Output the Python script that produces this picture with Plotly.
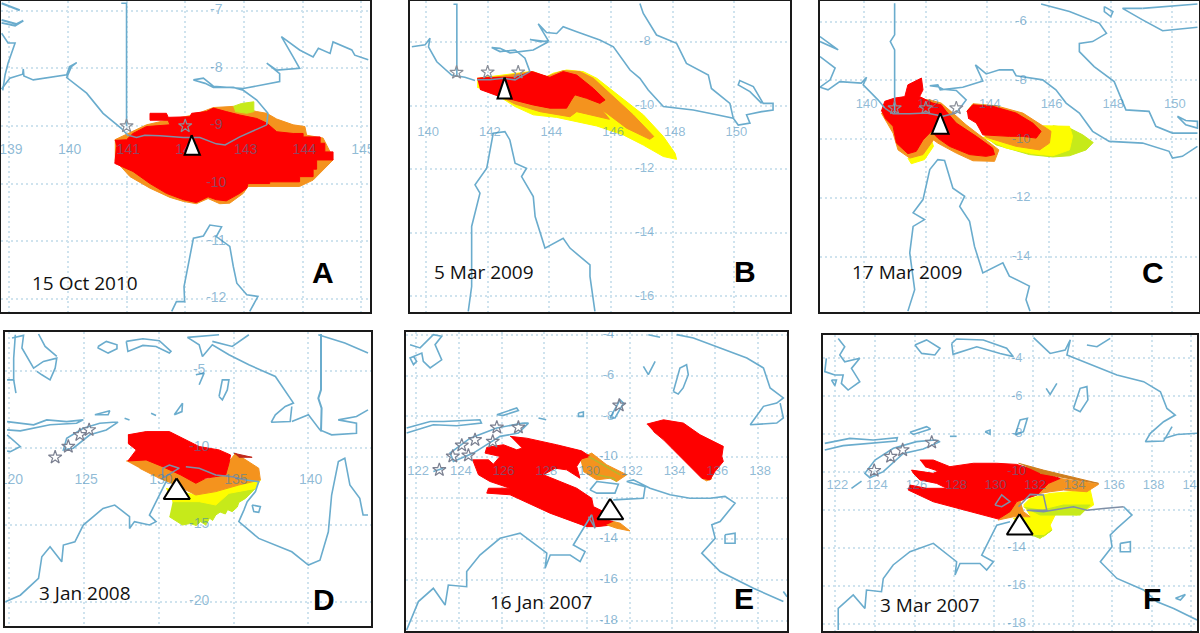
import plotly.graph_objects as go

# ---------- Palette ----------
RED, ORANGE, YELLOW, GREEN = "#fe0000", "#f4931e", "#fdfd00", "#c6ea1a"
COAST, GREY, GRID, LABEL = "#6aaccd", "#7f8fa6", "#cfe3ee", "rgba(50,130,180,0.55)"

# ---------- Panel A: 15 Oct 2010 ----------
A_COAST = [(138.87,-8.36),(139.01,-8.17),(139.23,-8.10),(139.24,-8.01),(139.25,-8.13),(139.41,-8.20),(139.98,-8.11),(140.03,-7.97),(140.15,-7.90),(140.06,-7.97),(139.98,-8.16),(140.32,-8.43),(140.60,-8.78),(140.91,-9.04),(141.03,-9.17)]
A_BORDER = [(141.03,-9.16),(141.17,-9.20),(141.31,-9.16),(141.57,-9.17),(141.97,-9.20),(142.25,-9.20),(142.53,-9.31),(142.68,-9.33),(142.93,-9.19),(143.39,-8.98)]
A_COAST2 = [(143.39,-8.98),(143.41,-8.78),(143.22,-8.55),(142.99,-8.38),(142.82,-8.33),(142.48,-8.33),(142.34,-8.26),(142.14,-8.20),(142.31,-8.17),(142.48,-8.31),(142.99,-8.35),(143.61,-8.23),(143.61,-8.09),(143.39,-7.91),(143.56,-8.03),(143.95,-8.00),(143.84,-7.80),(143.64,-7.45),(143.95,-7.68),(144.18,-7.80),(144.27,-7.65),(144.47,-7.74),(144.52,-7.54),(144.84,-7.68),(144.89,-7.77),(145.12,-7.85)]
A_LINE = [(141,-9),(141,-6.87),(140.91,-6.87)]
A_ISL1 = [(138.87,-7.16),(139.12,-7.23),(139.24,-7.17),(139.10,-7.26),(138.87,-7.21)]
A_ISL2 = [(138.87,-6.87),(139.18,-6.99)]
A_WEST = [(138.87,-7.39),(138.98,-7.56),(139.10,-7.56),(138.98,-7.91),(138.93,-8.11),(138.89,-8.38)]
A_YORK = [(141.77,-12.22),(141.85,-12.05),(141.99,-12.05),(141.98,-11.79),(142.14,-10.95),(142.31,-10.91),(142.42,-10.72),(142.62,-10.75),(142.53,-10.92),(142.76,-11.09),(142.82,-11.44),(142.88,-11.73),(143.05,-11.93),(143.24,-11.96),(143.10,-12.22)]
A_ORANGE = [(140.80,-9.59),(141.06,-9.88),(141.40,-10.08),(141.74,-10.24),(141.97,-10.31),(142.19,-10.35),(142.39,-10.26),(142.59,-10.35),(142.76,-10.34),(142.99,-10.17),(143.07,-10.05),(143.44,-10.05),(143.95,-10.05),(144.18,-9.94),(144.52,-9.59),(144.47,-9.45),(144.35,-9.21),(144.07,-9.16),(144.04,-9.01),(143.84,-8.98),(143.56,-8.88),(143.39,-8.78),(143.22,-8.75),(142.82,-8.66),(142.48,-8.68),(142.14,-8.81),(141.68,-8.90),(141.34,-8.98),(140.80,-9.24)]
A_RED = [(140.80,-9.25),(141.00,-9.24),(141.11,-9.13),(141.34,-9.01),(141.74,-8.98),(141.71,-8.90),(141.40,-8.90),(141.40,-8.78),(141.68,-8.78),(141.71,-8.85),(142.08,-8.84),(142.11,-8.78),(142.36,-8.75),(142.48,-8.69),(142.70,-8.75),(142.93,-8.81),(143.22,-8.87),(143.39,-8.95),(143.56,-9.10),(143.84,-9.13),(144.01,-9.13),(144.01,-9.19),(144.30,-9.19),(144.30,-9.30),(144.38,-9.30),(144.38,-9.45),(144.52,-9.45),(144.52,-9.59),(144.24,-9.59),(144.24,-9.75),(144.18,-9.75),(144.18,-9.88),(143.95,-9.88),(143.95,-9.97),(143.44,-9.97),(143.44,-10.00),(143.07,-10.00),(143.05,-10.08),(142.93,-10.17),(142.70,-10.30),(142.53,-10.28),(142.39,-10.23),(142.19,-10.33),(141.97,-10.28),(141.68,-10.17),(141.40,-10.00),(141.11,-9.79),(140.80,-9.65),(140.83,-9.36)]
A_YELLOW = [(142.82,-8.66),(142.96,-8.61),(143.17,-8.58),(143.17,-8.75),(143.05,-8.78),(142.85,-8.75)]
A_TRI = [(142.11,-9.16),(141.99,-9.50),(142.25,-9.50)]
A_STARS = [(141.0,-9.0),(142.0,-9.0)]
A_LONS = [139,140,141,142,143,144,145]
A_LATS = [-7,-8,-9,-10,-11,-12]

# ---------- Panel B: 5 Mar 2009 ----------
B_COAST = [(139.54,-8.15),(139.97,-8.09),(140.13,-7.88),(140.08,-8.15),(140.35,-8.62),(140.83,-9.04),(141.26,-9.11),(141.59,-9.21)]
B_BORDER = [(141.66,-9.19),(142.08,-9.19),(142.51,-9.14),(142.89,-9.19),(143.37,-8.93)]
B_COAST2 = [(143.37,-8.93),(143.21,-8.51),(142.89,-8.25),(142.40,-8.30),(142.13,-8.17),(142.40,-8.20),(142.72,-8.34),(143.48,-8.25),(143.97,-7.99),(143.37,-7.92),(143.70,-7.99),(143.97,-7.96),(143.64,-7.43),(143.91,-7.70),(144.24,-7.73),(144.45,-7.52),(144.89,-7.68),(145.64,-7.94),(146.08,-8.15),(146.62,-8.88),(146.94,-9.14),(147.21,-9.51),(147.70,-10.03),(148.67,-10.14),(149.43,-10.29),(149.97,-10.40),(150.13,-10.61),(150.51,-10.55),(150.40,-10.29),(150.89,-10.19),(151.26,-10.14),(151.26,-9.93),(150.94,-9.93),(150.62,-9.40),(150.18,-9.21),(150.13,-9.35),(150.51,-9.56),(150.89,-9.93)]
B_NE = [(146.94,-6.79),(147.05,-7.10),(147.48,-7.78),(148.13,-8.04),(148.45,-8.67),(149.16,-9.04),(149.26,-9.46),(149.86,-9.93),(149.97,-10.40)]
B_LINE = [(141,-9.04),(141,-6.81),(140.89,-6.81)]
B_YORK = [(141.37,-16.47),(141.48,-15.69),(141.48,-13.80),(141.75,-12.75),(141.59,-12.49),(141.97,-11.97),(142.18,-10.87),(142.56,-10.82),(142.72,-11.08),(142.89,-11.81),(143.26,-11.97),(143.10,-12.23),(143.48,-12.86),(143.54,-13.49),(143.86,-14.48),(144.45,-14.17),(144.67,-14.48),(145.32,-15.01),(145.32,-15.37),(145.48,-16.47)]
B_YELLOW = [(141.66,-9.42),(142.29,-9.66),(142.89,-10.03),(143.48,-10.29),(144.24,-10.37),(144.89,-10.50),(145.54,-10.64),(146.40,-10.92),(147.05,-11.24),(147.70,-11.60),(148.13,-11.69),(148.08,-11.50),(147.70,-10.97),(147.05,-10.29),(146.18,-9.61),(145.54,-9.14),(145.10,-8.93),(144.56,-8.88),(144.13,-8.98),(143.91,-9.09),(143.37,-8.93),(141.66,-9.14)]
B_ORANGE = [(142.24,-9.63),(142.89,-9.95),(143.70,-10.19),(144.67,-10.35),(144.89,-10.19),(145.54,-10.35),(145.95,-10.43),(145.70,-10.12),(146.51,-10.71),(147.26,-11.06),(147.39,-10.97),(146.72,-10.29),(146.08,-9.72),(145.43,-9.14),(144.99,-8.93),(144.45,-8.90),(143.91,-9.09),(143.48,-8.93),(141.66,-9.19)]
B_RED = [(141.66,-9.14),(141.97,-9.11),(142.89,-9.11),(143.43,-8.93),(144.02,-9.11),(144.45,-8.93),(144.89,-9.04),(145.43,-9.46),(145.81,-9.82),(145.64,-9.93),(145.21,-9.77),(144.83,-9.66),(144.72,-9.82),(144.56,-10.08),(144.02,-10.08),(143.48,-9.98),(142.83,-9.82),(142.40,-9.72),(141.75,-9.49)]
B_TRI = [(142.55,-9.11),(142.32,-9.78),(142.78,-9.78)]
B_STARS = [(140.99,-8.96),(142.00,-8.95),(142.99,-8.95)]
B_LONS = [140,142,144,146,148,150]
B_LATS = [-8,-10,-12,-14,-16]

# ---------- Panel C: 17 Mar 2009 ----------
C_COAST = [(138.57,-8.23),(138.83,-8.32),(139.21,-8.04),(139.91,-8.09),(140.08,-7.89),(139.97,-8.15),(140.45,-8.66),(140.67,-8.94)]
C_BORDER = [(140.67,-8.94),(140.94,-9.13),(141.48,-9.13),(142.02,-9.11),(142.56,-9.22),(142.99,-9.11)]
C_COAST2 = [(142.99,-9.11),(143.31,-8.66),(142.99,-8.34),(142.56,-8.30),(142.39,-8.21),(142.13,-8.18),(142.39,-8.15),(142.47,-8.32),(143.20,-8.23),(143.85,-8.02),(143.61,-7.47),(143.96,-7.78),(144.39,-7.64),(144.82,-7.64),(144.93,-7.84),(145.79,-7.98),(146.22,-8.32),(146.55,-8.77),(146.98,-9.11),(147.41,-9.73),(147.95,-10.07),(149.03,-10.13),(149.89,-10.41),(150.00,-10.64),(150.32,-10.58),(150.81,-10.24)]
C_NE = [(145.74,-5.40),(146.66,-5.66),(147.63,-6.06),(147.86,-6.40),(147.41,-6.68),(146.98,-6.74),(146.98,-7.02),(147.46,-7.53),(148.11,-8.04),(148.49,-9.00),(149.24,-9.05),(149.46,-9.56),(150.00,-9.79),(150.81,-9.79)]
C_ISL1 = [(149.03,-5.55),(148.38,-5.55),(149.03,-5.94),(149.68,-6.31),(150.81,-6.19)]
C_ISL2 = [(149.03,-5.55),(150.81,-5.40)]
C_ISL3 = [(147.79,-5.49),(148.07,-5.66),(148.00,-5.83),(147.79,-5.66),(147.79,-5.49)]
C_ISL4 = [(150.16,-9.22),(150.43,-9.36),(150.81,-9.39),(150.81,-9.62),(150.43,-9.51),(150.16,-9.22)]
C_WEST = [(138.57,-6.51),(139.16,-6.96),(138.57,-6.68)]
C_WEST2 = [(138.57,-7.19),(139.06,-7.58),(138.90,-7.98),(138.57,-8.23)]
C_LINE = [(140.99,-9.13),(140.99,-6.96),(140.85,-6.68),(140.99,-6.45),(140.99,-5.38)]
C_YORK = [(141.42,-15.84),(141.64,-15.11),(141.48,-13.86),(141.59,-12.96),(141.96,-12.73),(141.59,-12.50),(141.91,-12.05),(142.13,-11.03),(142.39,-10.69),(142.61,-10.72),(142.88,-11.66),(143.26,-11.94),(143.10,-12.28),(143.42,-12.79),(143.58,-13.64),(143.85,-14.54),(144.50,-14.20),(144.71,-14.65),(145.36,-14.99),(145.25,-15.45),(145.38,-15.84)]
C_GREEN_E = [(146.12,-9.54),(146.66,-9.62),(147.09,-9.85),(147.43,-10.11),(147.20,-10.36),(146.66,-10.56),(146.12,-10.60),(145.36,-10.52),(144.28,-10.19),(143.91,-9.90),(144.71,-10.02),(146.01,-10.13)]
C_YELLOW_E = [(145.79,-9.54),(146.66,-9.56),(146.76,-9.90),(146.66,-10.36),(146.12,-10.56),(145.47,-10.49),(144.61,-10.30),(143.85,-9.93)]
C_ORANGE_E = [(143.33,-9.05),(143.53,-8.79),(144.28,-8.86),(145.15,-9.11),(145.79,-9.54),(146.06,-9.73),(146.01,-10.13),(145.69,-10.36),(144.93,-10.24),(143.96,-9.93),(143.64,-9.45)]
C_RED_E = [(143.33,-9.05),(143.53,-8.83),(144.17,-8.88),(144.93,-9.11),(145.47,-9.45),(145.74,-9.73),(145.58,-9.96),(145.15,-9.90),(144.71,-9.90),(143.85,-9.85),(143.64,-9.45),(143.37,-9.28)]
C_YELLOW_W = [(141.42,-10.64),(141.53,-10.83),(141.96,-10.69),(142.25,-10.24),(142.18,-10.02),(141.91,-10.47)]
C_ORANGE_W = [(140.56,-9.11),(140.94,-9.79),(141.10,-10.36),(141.48,-10.64),(141.91,-10.52),(142.25,-10.02),(142.39,-10.13),(142.99,-10.47),(143.53,-10.73),(144.23,-10.75),(144.37,-10.36),(143.96,-10.02),(143.31,-9.51),(142.88,-9.11),(142.50,-8.77),(142.13,-8.66),(141.48,-8.66)]
C_RED_W = [(140.56,-9.05),(140.67,-8.71),(140.99,-8.60),(141.32,-8.55),(141.42,-8.15),(141.86,-7.92),(141.91,-8.32),(141.80,-8.55),(142.23,-8.77),(142.50,-8.83),(142.66,-9.05),(142.99,-9.45),(143.64,-9.90),(144.17,-10.30),(144.23,-10.52),(143.96,-10.58),(143.42,-10.52),(142.77,-10.24),(142.39,-9.96),(142.18,-9.73),(141.91,-10.02),(141.69,-10.41),(141.42,-10.49),(141.05,-10.13),(140.94,-9.56),(140.67,-9.28)]
C_TRI = [(142.47,-9.11),(142.20,-9.81),(142.74,-9.81)]
C_STARS = [(140.99,-8.94),(142.00,-8.94),(142.99,-8.94)]
C_LONS = [140,142,144,146,148,150]
C_LATS = [-6,-8,-10,-12,-14]

# ---------- Panel D: 3 Jan 2008 ----------
D_COASTS = [
 [(120.20,-2.87),(120.97,-2.70),(120.86,-3.52),(121.64,-4.83),(122.30,-4.39),(123.19,-4.18),(123.08,-4.83),(122.74,-5.59),(122.19,-5.26),(121.86,-5.04)],
 [(120.42,-2.66),(120.31,-4.18),(120.31,-5.59),(119.87,-5.59)],
 [(120.31,-5.59),(120.46,-6.45)],
 [(121.97,-2.61),(122.41,-3.42),(123.19,-4.07)],
 [(125.95,-3.42),(126.50,-3.09),(127.21,-3.31),(127.21,-3.57),(126.62,-3.85),(125.95,-3.52),(125.95,-3.42)],
 [(127.83,-3.09),(128.94,-2.92),(130.04,-3.05),(130.82,-3.74),(130.71,-3.85),(129.82,-3.42),(128.94,-3.35),(127.94,-3.74),(127.83,-3.09)],
 [(131.92,-2.83),(132.70,-3.31),(132.92,-4.07),(133.58,-3.31),(134.69,-3.96),(136.02,-4.61),(137.79,-5.37),(138.45,-6.34),(139.00,-7.10),(138.45,-7.32),(137.79,-7.86),(137.52,-8.34),(138.78,-8.30),(138.89,-7.32)],
 [(138.89,-8.30),(140.00,-7.86),(140.77,-8.84),(141.55,-9.16),(143.21,-9.06),(143.21,-8.41),(141.99,-8.19),(143.21,-7.97),(143.98,-7.54)],
 [(133.58,-3.09),(134.91,-3.42),(136.02,-2.66)],
 [(131.92,-2.83),(134.03,-2.66)],
 [(140.66,-2.66),(142.43,-3.20),(143.98,-3.85)],
 [(132.48,-5.26),(133.03,-5.15),(132.70,-5.91)],
 [(134.03,-6.67),(134.25,-5.59),(134.69,-5.59),(134.58,-6.24),(134.25,-6.89),(134.03,-6.67)],
 [(131.04,-7.86),(131.59,-7.10),(131.55,-7.65),(131.04,-7.86)],
 [(129.49,-7.76),(129.82,-7.91)],
 [(127.72,-8.08),(128.05,-8.19)],
 [(119.87,-8.30),(121.64,-8.51),(122.52,-8.19),(123.85,-8.30),(124.96,-8.19),(124.51,-8.41),(122.74,-8.51),(121.64,-8.73),(120.75,-8.90),(119.87,-8.84)],
 [(125.73,-7.86),(126.73,-7.60),(126.62,-7.86),(125.73,-7.86)],
 [(126.95,-8.34),(127.28,-8.34),(126.50,-8.84),(125.40,-9.16),(124.29,-10.03),(123.63,-10.14),(123.85,-9.38),(124.96,-8.73),(126.06,-8.41),(126.95,-8.34)],
 [(119.87,-9.16),(120.75,-9.92),(120.09,-10.25),(119.87,-10.21)],
 [(119.76,-20.01),(120.75,-19.58),(121.97,-18.49),(122.19,-17.08),(122.74,-16.43),(123.52,-17.41),(123.63,-16.32),(124.40,-16.11),(124.96,-15.02),(126.28,-13.94),(127.06,-13.72),(128.05,-14.48),(128.05,-15.24),(128.38,-14.80),(129.38,-15.02),(129.82,-14.80),(129.38,-14.37),(130.27,-12.64),(130.49,-12.20)],
 [(135.80,-12.09),(136.68,-12.20),(136.46,-12.85),(135.91,-13.50),(135.69,-14.05),(135.35,-14.80),(136.68,-15.89),(138.89,-16.76),(140.00,-17.62),(140.77,-17.30),(141.33,-15.46),(141.55,-13.07),(142.00,-10.90),(142.43,-10.68),(142.77,-12.42),(143.43,-13.29),(143.65,-14.37),(143.98,-14.37)],
 [(136.24,-13.72),(136.79,-13.83),(136.68,-14.20),(136.35,-14.15),(136.24,-13.72)],
]
D_BORDER = [(140.84,-2.61),(140.84,-6.24),(140.66,-6.78),(140.88,-7.43),(140.84,-8.95)]
D_TIWI = [(130.27,-11.33),(130.27,-11.98),(131.37,-11.33),(130.71,-11.12),(130.27,-11.33)]
D_ARNHEM = [(131.81,-11.23),(132.48,-11.33),(132.70,-11.33),(133.81,-11.77),(134.91,-11.88),(135.80,-12.09)]
D_GREEN = [(130.93,-13.50),(132.70,-13.39),(133.81,-13.61),(134.69,-12.96),(136.46,-12.64),(135.80,-13.29),(135.35,-13.55),(135.25,-13.85),(134.91,-14.15),(134.60,-14.02),(134.45,-14.30),(134.10,-14.18),(133.81,-14.37),(133.60,-14.72),(133.40,-14.58),(133.14,-15.02),(132.80,-14.80),(132.50,-15.05),(132.10,-14.92),(131.59,-15.02),(130.71,-14.48)]
D_YELLOW = [(130.49,-12.64),(132.48,-13.07),(133.81,-12.85),(135.35,-12.42),(136.79,-12.09),(136.46,-12.64),(134.69,-12.96),(133.81,-13.72),(132.70,-13.50),(130.93,-13.50)]
D_ORANGE = [(127.83,-10.86),(129.16,-10.68),(130.49,-11.23),(132.48,-12.20),(134.47,-11.77),(134.69,-10.90),(135.13,-10.36),(135.80,-10.79),(136.68,-11.33),(136.79,-12.09),(135.35,-12.42),(133.81,-12.85),(132.48,-13.07),(131.15,-12.42),(130.04,-11.98),(128.72,-11.33)]
D_RED = [(127.94,-9.16),(129.16,-8.95),(130.71,-8.95),(131.81,-9.49),(132.70,-9.92),(134.03,-10.14),(134.80,-10.47),(134.69,-11.01),(134.47,-11.77),(133.14,-11.98),(132.48,-12.31),(131.48,-11.77),(130.27,-11.23),(129.16,-10.79),(127.94,-10.86),(128.50,-10.14),(127.94,-9.71)]
D_STREAK = [(135.02,-10.36),(136.24,-10.62),(135.35,-10.62)]
D_TRI = [(131.19,-11.99),(130.33,-13.33),(132.08,-13.33)]
D_STARS = [(123.08,-10.62),(123.96,-9.92),(124.73,-9.16),(125.35,-8.84)]
D_LONS = [120,125,130,135,140]
D_LATS = [-5,-10,-15,-20]

# ---------- Panel E: 16 Jan 2007 ----------
E_COASTS = [
 [(121.72,-4.49),(122.19,-4.65),(122.81,-4.00),(123.20,-4.08),(122.89,-4.49),(123.20,-5.23),(122.66,-5.63),(122.34,-5.31),(122.27,-4.90),(121.72,-5.14),(121.88,-5.47),(122.03,-5.31),(121.88,-5.06)],
 [(132.87,-4.00),(133.42,-4.13)],
 [(134.20,-4.00),(134.98,-4.16),(136.23,-4.65),(137.48,-5.14),(138.26,-5.63),(138.57,-6.61),(139.19,-7.10),(138.88,-7.35),(138.26,-7.51),(137.64,-8.41),(138.88,-8.33),(139.19,-8.08),(139.04,-7.35)],
 [(132.64,-5.55),(132.87,-5.96),(133.19,-5.31)],
 [(134.04,-6.78),(134.35,-5.63),(134.66,-5.47),(134.74,-5.96),(134.50,-6.61),(134.27,-6.91),(134.04,-6.78)],
 [(131.08,-8.08),(131.55,-7.19),(131.71,-7.35),(131.31,-8.08),(131.08,-8.08)],
 [(129.60,-7.84),(129.83,-7.79),(129.83,-8.00),(129.60,-8.00),(129.60,-7.84)],
 [(127.73,-8.08),(128.09,-8.17)],
 [(125.78,-7.92),(126.71,-7.59),(126.79,-7.72),(126.09,-7.95),(125.78,-7.92)],
 [(121.56,-8.57),(122.66,-8.25),(123.28,-8.25),(124.99,-8.17),(125.06,-8.33),(123.90,-8.46),(122.81,-8.41),(121.56,-8.82)],
 [(127.02,-8.33),(127.26,-8.33),(126.79,-8.82),(125.93,-8.98),(124.68,-9.80),(123.75,-10.21),(123.59,-9.80),(124.53,-9.07),(125.78,-8.57),(127.02,-8.33)],
 [(122.81,-10.70),(123.28,-10.54)],
 [(121.56,-18.46),(122.11,-17.07),(122.81,-16.42),(123.36,-17.24),(123.51,-16.26),(124.37,-16.34),(124.37,-15.60),(124.99,-14.79),(125.93,-13.97),(126.87,-13.72),(128.12,-14.70),(128.04,-15.44),(128.28,-14.79),(129.21,-14.79),(129.68,-15.11),(129.91,-14.62),(129.36,-14.30),(129.83,-13.48),(130.22,-12.82)],
 [(130.14,-11.60),(130.46,-11.19),(131.47,-11.32),(131.31,-11.76),(130.46,-11.76),(130.14,-11.60)],
 [(131.23,-12.09),(132.64,-12.01),(132.72,-11.44),(131.86,-11.19),(132.17,-11.11),(132.95,-11.52),(133.89,-11.84),(134.82,-12.01),(135.76,-12.01),(136.46,-11.92),(136.93,-12.25),(136.23,-13.15),(135.84,-13.31),(136.00,-13.97),(135.37,-14.70),(136.23,-15.60),(137.79,-16.42),(139.19,-17.07)],
 [(136.46,-13.80),(136.93,-13.72),(136.93,-14.21),(136.46,-14.21),(136.46,-13.80)],
 [(139.19,-16.58),(139.36,-16.83)],
]
E_GREYLINE = [(130.07,-12.91),(130.38,-13.48),(130.22,-12.82)]
E_ORANGE = [(129.67,-10.05),(130.22,-9.80),(130.92,-10.37),(131.86,-10.86),(131.39,-11.19),(131.08,-11.03),(130.46,-11.11),(129.83,-10.70)]
E_RED = [(126.40,-8.98),(127.18,-9.07),(128.58,-9.39),(129.75,-9.69),(130.14,-9.96),(129.75,-10.08),(129.52,-10.45),(129.67,-11.03),(129.05,-10.62),(128.51,-10.54),(127.96,-10.86),(128.74,-11.19),(129.52,-11.52),(130.22,-12.01),(130.30,-12.42),(130.77,-12.66),(130.53,-12.99),(131.24,-13.15),(131.24,-13.31),(130.46,-13.40),(129.99,-13.40),(128.27,-12.74),(126.40,-11.84),(125.31,-11.76),(125.39,-11.52),(126.40,-11.52),(125.46,-11.19),(124.92,-10.86),(124.65,-10.13),(125.39,-10.13),(125.62,-10.34),(125.93,-9.96),(125.23,-9.80),(125.31,-9.52),(126.09,-9.39),(126.71,-9.64),(126.95,-9.56)]
E_ORANGE_S = [(131.24,-13.15),(131.55,-13.23),(132.01,-13.61),(131.39,-13.48),(130.92,-13.31)]
E_STREAK1 = [(130.07,-9.96),(131.55,-10.86)]
E_STREAK2 = [(130.46,-10.86),(131.24,-11.03),(131.39,-11.19)]
E_ORANGE_NE = [(135.37,-11.03),(135.60,-11.16),(135.84,-11.06),(135.76,-10.86)]
E_RED_NE = [(132.80,-8.38),(133.58,-8.17),(134.51,-8.33),(135.29,-8.90),(136.38,-9.47),(136.31,-9.96),(136.38,-10.21),(135.99,-10.70),(135.76,-11.11),(135.37,-11.03),(134.82,-10.45),(134.20,-9.80),(133.58,-9.15),(133.11,-8.74)]
E_TRI = [(131.08,-12.04),(130.49,-13.04),(131.70,-13.04)]
E_STARS = [(123.09,-10.62),(123.72,-9.96),(124.45,-9.91),(124.14,-9.42),(124.76,-9.15),(125.59,-9.23),(125.78,-8.54),(126.79,-8.54),(131.51,-7.46)]
E_LONS = [122,124,126,128,130,132,134,136,138]
E_LATS = [-4,-6,-8,-10,-14,-16,-18]
E_GRID_LATS = [-4,-6,-8,-10,-12,-14,-16,-18]

# ---------- Panel F: 3 Mar 2007 ----------
F_COASTS = [
 [(122.14,-2.95),(122.47,-3.39),(122.22,-3.82),(122.47,-4.18),(123.23,-4.00),(122.81,-4.53),(123.23,-5.23),(122.64,-5.67),(122.30,-5.32),(122.39,-4.88),(121.97,-4.88),(121.46,-4.70),(121.54,-4.00)],
 [(121.80,-5.14),(122.05,-5.14),(121.97,-5.44),(121.80,-5.14)],
 [(126.02,-3.30),(126.61,-3.03),(127.29,-3.47),(127.03,-3.82),(126.36,-3.74),(126.02,-3.30)],
 [(127.88,-3.21),(128.13,-2.98),(129.48,-3.03),(130.66,-3.47),(131.00,-3.91),(130.33,-3.74),(129.15,-3.39),(127.95,-3.79),(127.88,-3.21)],
 [(132.02,-2.91),(132.86,-3.74),(133.62,-3.56),(133.88,-3.03),(133.71,-3.82),(134.72,-4.26),(136.24,-4.88),(137.59,-5.23),(138.44,-5.76),(138.77,-6.64),(139.19,-6.99),(138.60,-7.34),(137.93,-7.95),(137.68,-8.39),(138.60,-8.36),(139.03,-7.60)],
 [(135.90,-2.95),(135.23,-3.39),(134.72,-3.30)],
 [(138.60,-8.22),(139.28,-8.01),(140.29,-7.95)],
 [(132.66,-5.58),(132.86,-5.90),(133.20,-5.32)],
 [(134.04,-6.64),(134.38,-5.58),(134.72,-5.49),(134.77,-6.19),(134.38,-6.81),(134.04,-6.64)],
 [(131.09,-8.04),(131.34,-7.25),(131.71,-7.16),(131.51,-7.87),(131.09,-8.04)],
 [(129.57,-7.87),(129.82,-7.78),(129.82,-8.00),(129.57,-7.87)],
 [(127.79,-8.11),(128.13,-8.11)],
 [(125.77,-7.90),(126.61,-7.60),(126.81,-7.72),(125.94,-8.01),(125.77,-7.90)],
 [(121.46,-8.48),(122.73,-8.22),(123.91,-8.30),(125.13,-8.18),(125.09,-8.36),(123.74,-8.48),(122.39,-8.60),(121.46,-8.83)],
 [(127.03,-8.30),(127.29,-8.39),(126.44,-8.78),(125.43,-9.01),(124.42,-9.97),(123.74,-10.29),(123.49,-10.06),(124.00,-9.36),(124.93,-8.74),(126.10,-8.39),(127.03,-8.30)],
 [(122.81,-10.85),(123.32,-10.47)],
 [(122.14,-18.32),(122.14,-17.18),(122.90,-16.47),(123.49,-17.18),(123.57,-16.21),(124.33,-16.30),(124.42,-15.60),(124.92,-14.89),(125.77,-14.19),(126.95,-13.75),(128.13,-14.72),(128.05,-15.42),(128.30,-14.81),(129.31,-14.81),(129.65,-15.16),(129.99,-14.72),(129.40,-14.37),(129.82,-13.49),(130.16,-12.79),(130.83,-12.61)],
 [(136.58,-11.82),(137.00,-12.26),(136.24,-12.96),(135.90,-13.31),(135.99,-13.93),(135.40,-14.72),(136.24,-15.60),(137.59,-16.21),(138.27,-16.83),(139.11,-17.18),(140.29,-17.79)],
 [(136.41,-13.75),(136.92,-13.66),(136.92,-14.19),(136.41,-14.19),(136.41,-13.75)],
 [(139.20,-16.65),(139.70,-16.44),(139.45,-16.74),(139.20,-16.65)],
]
F_TIWI = [(130.07,-11.73),(130.41,-11.20),(130.83,-11.55),(130.41,-11.82),(130.07,-11.73)]
F_ARNHEM = [(131.26,-11.82),(131.85,-11.17),(132.52,-11.20),(132.69,-12.00),(131.68,-12.00),(132.52,-12.08),(134.04,-11.82),(134.72,-12.00),(135.56,-11.91),(136.58,-11.82)]
F_STREAK = [(131.26,-9.53),(132.52,-9.89),(135.31,-10.59),(134.21,-10.41),(132.35,-10.06)]
F_YELLOW = [(131.51,-11.73),(131.85,-11.38),(132.86,-11.12),(134.89,-10.94),(135.06,-11.73),(134.21,-12.26),(133.20,-12.08),(133.03,-12.43),(132.86,-12.79),(132.95,-13.05),(132.52,-13.40),(131.93,-13.31),(131.00,-12.43),(131.85,-12.35)]
F_GREEN = [(131.51,-11.82),(132.36,-12.26),(134.38,-12.26),(134.89,-11.73),(133.54,-11.73),(132.52,-11.99)]
F_GREEN2 = [(131.93,-13.31),(132.35,-13.49),(132.95,-13.05),(132.61,-13.31)]
F_ORANGE = [(133.37,-10.33),(135.31,-10.64),(134.72,-11.03),(133.54,-10.94),(132.86,-11.03),(131.85,-11.20),(131.34,-11.55),(131.51,-12.08),(131.85,-12.35),(131.00,-12.35),(130.24,-12.52),(130.83,-11.99),(131.17,-11.55),(132.19,-11.20),(132.78,-10.59)]
F_RED = [(126.27,-9.36),(126.95,-9.36),(127.79,-9.71),(128.98,-9.53),(130.16,-9.53),(131.17,-9.59),(132.35,-9.97),(133.37,-10.33),(132.78,-10.59),(132.19,-11.20),(131.17,-11.55),(130.83,-12.08),(130.24,-12.47),(128.81,-12.08),(126.95,-11.56),(125.68,-10.94),(125.77,-10.68),(126.61,-10.85),(127.63,-10.85),(127.12,-10.59),(126.27,-10.41),(125.94,-10.06),(125.85,-9.89),(126.95,-10.06),(127.20,-9.94),(126.53,-9.71)]
F_TRI = [(131.31,-12.21),(130.67,-13.28),(131.98,-13.28)]
F_STARS = [(123.96,-9.92),(124.79,-9.18),(125.40,-8.83),(126.87,-8.43)]
F_LONS = [122,124,126,128,130,132,134,136,138,140]
F_LATS = [-4,-6,-8,-10,-14,-16,-18]
F_GRID_LATS = [-4,-6,-8,-10,-12,-14,-16,-18]

# ---------- Panels (frame in page pixels l, r, t, b) ----------
PANELS = [
 dict(frame=(1,370,1,312), xr=(138.86,145.15), yr=(-12.23,-6.83), glon=A_LONS, glat=A_LATS, lons=A_LONS, lats=A_LATS,
      lon_at=-9.43, lon_off=0.03, lat_at=142.53, size=14, star="#8a8f99",
      coasts=[A_COAST,A_COAST2,A_LINE,A_WEST,A_YORK], thick=[A_ISL1,A_ISL2], grey=[A_BORDER],
      fills=[(A_ORANGE,ORANGE),(A_YELLOW,GREEN),(A_RED,RED)], tri=A_TRI, stars=A_STARS,
      date="15 Oct 2010", dxy=(85,283), mark="A", mxy=(323,272)),
 dict(frame=(410,790,1,312), xr=(139.48,151.81), yr=(-16.49,-6.71), glon=B_LONS, glat=B_LATS, lons=B_LONS, lats=B_LATS,
      lon_at=-10.85, lon_off=0.07, lat_at=147.10, size=13, star="#8a8f99",
      coasts=[B_COAST,B_COAST2,B_NE,B_LINE,B_YORK], thick=[], grey=[B_BORDER],
      fills=[(B_YELLOW,YELLOW),(B_ORANGE,ORANGE),(B_RED,RED)], tri=B_TRI, stars=B_STARS,
      date="5 Mar 2009", dxy=(484,272), mark="B", mxy=(745,271)),
 dict(frame=(820,1199,1,312), xr=(138.57,150.86), yr=(-15.87,-5.30), glon=C_LONS, glat=C_LATS, lons=C_LONS, lats=C_LATS,
      lon_at=-8.83, lon_off=0.08, lat_at=145.09, size=13, star="#8a8f99",
      coasts=[C_COAST,C_COAST2,C_NE,C_ISL1,C_ISL2,C_ISL3,C_ISL4,C_WEST,C_WEST2,C_LINE,C_YORK], thick=[], grey=[C_BORDER],
      fills=[(C_GREEN_E,GREEN),(C_YELLOW_E,YELLOW),(C_ORANGE_E,ORANGE),(C_RED_E,RED),(C_YELLOW_W,YELLOW),(C_ORANGE_W,ORANGE),(C_RED_W,RED)],
      tri=C_TRI, stars=C_STARS,
      date="17 Mar 2009", dxy=(907,272), mark="C", mxy=(1153,272)),
 dict(frame=(5,371,332,626), xr=(119.73,144.18), yr=(-21.58,-2.48), glon=D_LONS, glat=D_LATS, lons=D_LONS, lats=D_LATS,
      lon_at=-12.14, lon_off=0.15, lat_at=132.70, size=14, star="#7a7f90",
      coasts=D_COASTS, thick=[D_BORDER], grey=[D_TIWI,D_ARNHEM],
      fills=[(D_GREEN,GREEN),(D_YELLOW,YELLOW),(D_ORANGE,ORANGE),(D_RED,RED),(D_STREAK,"#c0281c")], tri=D_TRI, stars=D_STARS,
      date="3 Jan 2008", dxy=(85,593), mark="D", mxy=(324,599)),
 dict(frame=(406,787,332,631), xr=(121.53,139.36), yr=(-18.51,-3.87), glon=E_LONS, glat=E_GRID_LATS, lons=E_LONS, lats=E_LATS,
      lon_at=-10.73, lon_off=0.10, lat_at=131.00, size=13, star="#7a7f90",
      coasts=E_COASTS, thick=[], grey=[E_GREYLINE],
      fills=[(E_ORANGE,ORANGE),(E_RED,RED),(E_ORANGE_S,ORANGE),(E_ORANGE_NE,ORANGE),(E_RED_NE,RED)], tri=E_TRI, stars=E_STARS,
      streaks=[E_STREAK1,E_STREAK2],
      date="16 Jan 2007", dxy=(541,602), mark="E", mxy=(744,598)),
 dict(frame=(823,1197,335,631), xr=(121.37,140.29), yr=(-18.37,-2.77), glon=F_LONS, glat=F_GRID_LATS, lons=F_LONS, lats=F_LATS,
      lon_at=-10.73, lon_off=0.10, lat_at=131.17, size=13, star="#7a7f90",
      coasts=F_COASTS, thick=[], grey=[F_TIWI,F_ARNHEM],
      fills=[(F_YELLOW,YELLOW),(F_GREEN,GREEN),(F_GREEN2,GREEN),(F_ORANGE,ORANGE),(F_RED,RED),(F_STREAK,"#cf7d1c")], tri=F_TRI, stars=F_STARS,
      date="3 Mar 2007", dxy=(930,605), mark="F", mxy=(1152,598)),
]

W, H = 1200, 633
fig = go.Figure()
layout = {}
annotations = []


def xy(points):
    return [p[0] for p in points], [p[1] for p in points]


for i, p in enumerate(PANELS, start=1):
    ax = dict(xaxis=f"x{i}", yaxis=f"y{i}")
    l, r, t, b = p["frame"]
    common = dict(showline=True, mirror=True, linecolor="#1a1a1a", linewidth=2, showticklabels=False, ticks="",
                  showgrid=True, gridcolor=GRID, gridwidth=1.5, griddash="2px,3px", zeroline=False, fixedrange=True)
    layout[f"xaxis{i}"] = dict(domain=[l / W, r / W], range=list(p["xr"]), tickvals=p["glon"], anchor=f"y{i}", **common)
    layout[f"yaxis{i}"] = dict(domain=[1 - b / H, 1 - t / H], range=list(p["yr"]), tickvals=p["glat"], anchor=f"x{i}", **common)

    for pts, col in p["fills"]:
        x, y = xy(pts)
        fig.add_trace(go.Scatter(x=x, y=y, mode="lines", fill="toself", fillcolor=col,
                                 line=dict(color=col, width=1), hoverinfo="skip", **ax))
    for pts in p.get("streaks", []):
        x, y = xy(pts)
        fig.add_trace(go.Scatter(x=x, y=y, mode="lines", line=dict(color="#b9b52a", width=1.5), hoverinfo="skip", **ax))
    for pts in p["coasts"]:
        x, y = xy(pts)
        fig.add_trace(go.Scatter(x=x, y=y, mode="lines", line=dict(color=COAST, width=1.6), hoverinfo="skip", **ax))
    for pts in p["thick"]:
        x, y = xy(pts)
        fig.add_trace(go.Scatter(x=x, y=y, mode="lines", line=dict(color=COAST, width=2), hoverinfo="skip", **ax))
    for pts in p["grey"]:
        x, y = xy(pts)
        fig.add_trace(go.Scatter(x=x, y=y, mode="lines", line=dict(color=GREY, width=1.5), hoverinfo="skip", **ax))

    # graticule labels
    fig.add_trace(go.Scatter(x=[v + p["lon_off"] for v in p["lons"]], y=[p["lon_at"]] * len(p["lons"]),
                             mode="text", text=[str(v) for v in p["lons"]],
                             textfont=dict(family="Liberation Sans", size=p["size"], color=LABEL), hoverinfo="skip", **ax))
    fig.add_trace(go.Scatter(x=[p["lat_at"]] * len(p["lats"]), y=p["lats"],
                             mode="text", text=[str(v) for v in p["lats"]],
                             textfont=dict(family="Liberation Sans", size=p["size"], color=LABEL), hoverinfo="skip", **ax))
    # volcano stars
    x, y = xy(p["stars"])
    fig.add_trace(go.Scatter(x=x, y=y, mode="markers", marker=dict(symbol="star-open", size=10, color=p["star"], line=dict(width=1.2)),
                             hoverinfo="skip", **ax))
    # source triangle
    x, y = xy(p["tri"] + p["tri"][:1])
    fig.add_trace(go.Scatter(x=x, y=y, mode="lines", fill="toself", fillcolor="white",
                             line=dict(color="black", width=2), hoverinfo="skip", **ax))

    annotations.append(dict(text=p["date"], x=p["dxy"][0] / W, y=1 - p["dxy"][1] / H, xref="paper", yref="paper",
                            showarrow=False, xanchor="center", yanchor="middle",
                            font=dict(family="Open Sans", size=19, color="#111111")))
    annotations.append(dict(text=f"<b>{p['mark']}</b>", x=p["mxy"][0] / W, y=1 - p["mxy"][1] / H, xref="paper", yref="paper",
                            showarrow=False, xanchor="center", yanchor="middle",
                            font=dict(family="Liberation Sans", size=30, color="black")))

fig.update_layout(width=W, height=H, margin=dict(l=0, r=0, t=0, b=0), paper_bgcolor="white", plot_bgcolor="white",
                  showlegend=False, hovermode=False, annotations=annotations, **layout)

fig.write_html("out.html", config={"displayModeBar": False}, post_script="document.body.style.margin='0';")
